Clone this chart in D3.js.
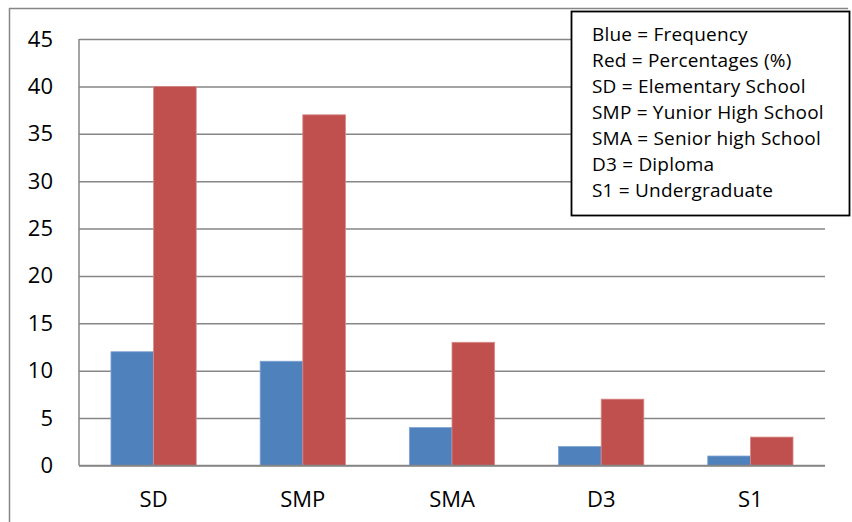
<!DOCTYPE html>
<html>
<head>
<meta charset="utf-8">
<script src="https://cdn.jsdelivr.net/npm/d3@7"></script>
<style>
  html, body { margin: 0; padding: 0; background: #fff; }
  svg { display: block; }
</style>
</head>
<body>
<svg id="chart" width="852" height="522"></svg>
<script>
const categories = ["SD", "SMP", "SMA", "D3", "S1"];
const seriesNames = ["Frequency", "Percentages"];
const frequency = [12, 11, 4, 2, 1];
const percentages = [40, 37, 13, 7, 3];
const yTicks = [0, 5, 10, 15, 20, 25, 30, 35, 40, 45];
const legendLines = [
  "Blue = Frequency",
  "Red = Percentages (%)",
  "SD = Elementary School",
  "SMP = Yunior High School",
  "SMA = Senior high School",
  "D3 = Diploma",
  "S1 = Undergraduate"
];
const colors = ["#4F81BD", "#C0504D"];

(function () {
const svg = d3.select("#chart");
const grid = "#868686";
const font = "'Open Sans', 'Noto Sans', sans-serif";

// outer frame (top and left only visible)
svg.append("line").attr("x1", 9).attr("x2", 848).attr("y1", 8.5).attr("y2", 8.5)
  .attr("stroke", grid).attr("stroke-width", 1.5);
svg.append("line").attr("x1", 9.5).attr("x2", 9.5).attr("y1", 8).attr("y2", 522)
  .attr("stroke", grid).attr("stroke-width", 1.5);

const pL = 79, pR = 825, pT = 39, pB = 465.5;

const x0 = d3.scaleBand().domain(categories).range([pL, pR])
  .paddingInner(1.5 / 3.5).paddingOuter(0.75 / 3.5);
const x1 = d3.scaleBand().domain(seriesNames).range([0, x0.bandwidth()]);
const y = d3.scaleLinear().domain([0, 45]).range([pB, pT]);

// gridlines + y labels
const yAxis = svg.append("g").attr("transform", `translate(${pL},0)`)
  .call(d3.axisLeft(y).tickValues(yTicks).tickSize(-(pR - pL)).tickPadding(26));
yAxis.select(".domain").remove();
yAxis.selectAll(".tick line").attr("stroke", grid).attr("stroke-width", 1.5);
yAxis.selectAll(".tick text").attr("font-family", font).attr("font-size", 22)
  .attr("fill", "#000");

// bars
const data = categories.map((c, i) => ({ cat: c, vals: [frequency[i], percentages[i]] }));
const groups = svg.append("g").selectAll("g").data(data).join("g")
  .attr("transform", d => `translate(${x0(d.cat)},0)`);
groups.selectAll("rect").data(d => d.vals.map((v, j) => ({ name: seriesNames[j], v, j })))
  .join("rect")
  .attr("x", d => x1(d.name))
  .attr("width", x1.bandwidth())
  .attr("y", d => y(d.v))
  .attr("height", d => y(0) - y(d.v))
  .attr("fill", d => colors[d.j])
  .attr("stroke", d => d.j === 0 ? "#7da2d1" : "#d88a88")
  .attr("stroke-width", 0.8);

// axes lines
svg.append("line").attr("x1", pL).attr("x2", pL).attr("y1", pT).attr("y2", pB)
  .attr("stroke", grid).attr("stroke-width", 1.5);
svg.append("line").attr("x1", pL).attr("x2", pR).attr("y1", pB).attr("y2", pB)
  .attr("stroke", grid).attr("stroke-width", 1.5);

// x labels
const xAxis = svg.append("g").attr("transform", `translate(0,${pB})`)
  .call(d3.axisBottom(x0).tickSize(0).tickPadding(26));
xAxis.select(".domain").remove();
xAxis.selectAll(".tick text").attr("font-family", font).attr("font-size", 22)
  .attr("fill", "#000");

// legend box
const lg = svg.append("g");
lg.append("rect").attr("x", 571.5).attr("y", 11.5).attr("width", 278).attr("height", 204)
  .attr("fill", "#fff").attr("stroke", "#000").attr("stroke-width", 1.8);
lg.selectAll("text").data(legendLines).join("text")
  .attr("x", 592).attr("y", (d, i) => 41 + i * 26)
  .attr("font-family", font).attr("font-size", 19).attr("letter-spacing", 0.2)
  .attr("fill", "#000")
  .text(d => d);
})();
</script>
</body>
</html>
